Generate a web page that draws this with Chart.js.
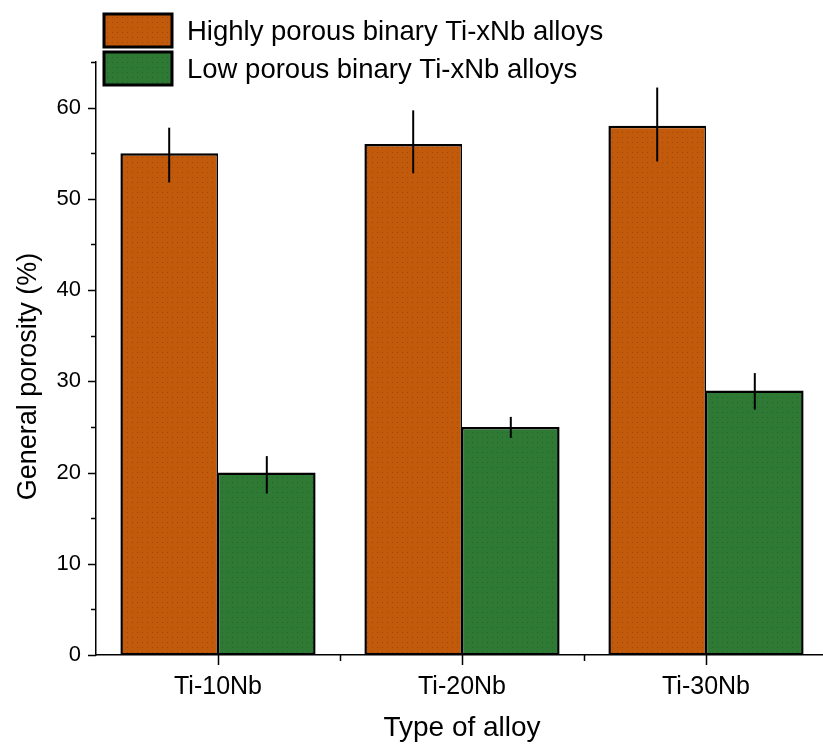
<!DOCTYPE html>
<html>
<head>
<meta charset="utf-8">
<script src="https://cdn.jsdelivr.net/npm/chart.js@4.4.1/dist/chart.umd.min.js"></script>
<style>
  html, body { margin: 0; padding: 0; background: #fff; overflow: hidden; }
  #wrap { width: 840px; height: 745px; position: relative; }
</style>
</head>
<body>
<div id="wrap"><canvas id="chart"></canvas></div>
<script>
// Alloy categories
const categories = ['Ti-10Nb', 'Ti-20Nb', 'Ti-30Nb'];

// General porosity (%) and error bars for highly porous samples
const highlyPorous = [55, 56, 58];
const highlyErrUp = [2.8, 3.7, 4.2];
const highlyErrDown = [3.2, 3.2, 3.9];

// General porosity (%) and error bars for low porous samples
const lowPorous = [20, 25, 29];
const lowErrUp = [1.8, 1.1, 1.9];
const lowErrDown = [2.3, 1.2, 2.1];

// Axis ticks
const yMajorTicks = [0, 10, 20, 30, 40, 50, 60];
const yMinorTicks = [5, 15, 25, 35, 45, 55, 65];

const FONT = '"Liberation Sans", Arial, sans-serif';
const yTitle = 'General porosity (%)';

// Dotted fill texture for the bars
const tmp = document.createElement('canvas').getContext('2d');
function dotPattern(base, dot) {
  const c = document.createElement('canvas');
  c.width = 5; c.height = 5;
  const g = c.getContext('2d');
  g.fillStyle = base;
  g.fillRect(0, 0, 5, 5);
  g.fillStyle = dot;
  g.fillRect(2, 2, 1, 1);
  return tmp.createPattern(c, 'repeat');
}
const orangeFill = dotPattern('#c25a0c', '#a0460a');
const greenFill = dotPattern('#2e7a34', '#22642a');

const errors = [
  { up: highlyErrUp, down: highlyErrDown },
  { up: lowErrUp, down: lowErrDown }
];

// Vertical error bars without caps
const errorBars = {
  id: 'errorBars',
  afterDatasetsDraw(chart) {
    const ctx = chart.ctx;
    const y = chart.scales.y;
    ctx.save();
    ctx.strokeStyle = '#000';
    ctx.lineWidth = 2;
    chart.data.datasets.forEach((ds, i) => {
      const meta = chart.getDatasetMeta(i);
      meta.data.forEach((bar, j) => {
        const v = ds.data[j];
        const top = y.getPixelForValue(v + errors[i].up[j]);
        const bot = y.getPixelForValue(v - errors[i].down[j]);
        ctx.beginPath();
        ctx.moveTo(bar.x, top);
        ctx.lineTo(bar.x, bot);
        ctx.stroke();
      });
    });
    ctx.restore();
  }
};

// Outward tick marks (major and minor) and the rotated y-axis title
const axisDecor = {
  id: 'axisDecor',
  afterDraw(chart) {
    const ctx = chart.ctx;
    const x = chart.scales.x, y = chart.scales.y;
    const area = chart.chartArea;
    ctx.save();
    ctx.strokeStyle = '#000';
    ctx.lineWidth = 1.5;
    ctx.beginPath();
    yMajorTicks.forEach(v => {
      const p = Math.round(y.getPixelForValue(v)) + 0.5;
      ctx.moveTo(area.left - 8, p); ctx.lineTo(area.left, p);
    });
    yMinorTicks.forEach(v => {
      const p = Math.round(y.getPixelForValue(v)) + 0.5;
      ctx.moveTo(area.left - 5, p); ctx.lineTo(area.left, p);
    });
    categories.forEach((c, i) => {
      const p = Math.round(x.getPixelForValue(i)) + 0.5;
      ctx.moveTo(p, area.bottom); ctx.lineTo(p, area.bottom + 10);
      if (i > 0) {
        const m = Math.round((x.getPixelForValue(i) + x.getPixelForValue(i - 1)) / 2) + 0.5;
        ctx.moveTo(m, area.bottom); ctx.lineTo(m, area.bottom + 6);
      }
    });
    ctx.stroke();

    // y-axis title, rotated
    ctx.translate(29, (area.top + area.bottom) / 2 + 18);
    ctx.rotate(-Math.PI / 2);
    ctx.font = '27px ' + FONT;
    ctx.fillStyle = '#000';
    ctx.textAlign = 'center';
    ctx.textBaseline = 'middle';
    ctx.fillText(yTitle, 0, 0);
    ctx.restore();
  }
};

// Legend drawn in the upper-left corner, over the plot
const cornerLegend = {
  id: 'cornerLegend',
  afterDraw(chart) {
    const ctx = chart.ctx;
    ctx.save();
    ctx.font = '27.5px ' + FONT;
    ctx.textBaseline = 'middle';
    chart.data.datasets.forEach((ds, i) => {
      const bx = 104, by = 14 + i * 38, bw = 68, bh = 33;
      ctx.fillStyle = ds.backgroundColor;
      ctx.fillRect(bx, by, bw, bh);
      ctx.lineWidth = 3;
      ctx.strokeStyle = '#000';
      ctx.strokeRect(bx, by, bw, bh);
      ctx.fillStyle = '#000';
      ctx.fillText(ds.label, 187, by + bh / 2 + 2);
    });
    ctx.restore();
  }
};

new Chart(document.getElementById('chart'), {
  type: 'bar',
  data: {
    labels: categories,
    datasets: [
      {
        label: 'Highly porous binary Ti-xNb alloys',
        data: highlyPorous,
        backgroundColor: orangeFill,
        borderColor: '#000',
        borderWidth: { top: 2.5, left: 2.5, right: 1.5, bottom: 2 },
        borderSkipped: false,
        categoryPercentage: 0.8,
        barPercentage: 1.0
      },
      {
        label: 'Low porous binary Ti-xNb alloys',
        data: lowPorous,
        backgroundColor: greenFill,
        borderColor: '#000',
        borderWidth: { top: 2.5, left: 1.5, right: 2.5, bottom: 2 },
        borderSkipped: false,
        categoryPercentage: 0.8,
        barPercentage: 1.0
      }
    ]
  },
  options: {
    responsive: true,
    maintainAspectRatio: false,
    animation: false,
    layout: { padding: { top: 62, right: 12, left: 0, bottom: 0 } },
    plugins: {
      legend: { display: false },
      tooltip: { enabled: false }
    },
    scales: {
      x: {
        offset: true,
        grid: { display: false, drawTicks: false },
        border: { display: true, color: '#000', width: 1.5 },
        ticks: { color: '#000', font: { family: FONT, size: 25 }, padding: 17, maxRotation: 0 },
        title: { display: true, text: 'Type of alloy', color: '#000', font: { family: FONT, size: 28 }, padding: { top: 0, bottom: 0 } },
        afterFit(s) { s.height = 90; }
      },
      y: {
        min: 0,
        max: 65,
        grid: { display: false, drawTicks: false },
        border: { display: true, color: '#000', width: 1.5 },
        ticks: { color: '#000', font: { family: FONT, size: 22 }, padding: 15 },
        afterBuildTicks(s) { s.ticks = yMajorTicks.map(v => ({ value: v })); },
        title: { display: false },
        afterFit(s) { s.width = 96; }
      }
    }
  },
  plugins: [errorBars, axisDecor, cornerLegend]
});
</script>
</body>
</html>
